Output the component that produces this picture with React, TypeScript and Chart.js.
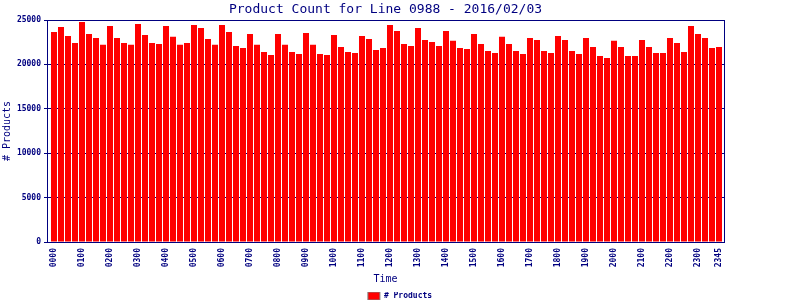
import React, { useEffect, useRef } from 'react';
import { Chart, registerables } from 'chart.js';

Chart.register(...registerables);

const timeLabels = [
  '0000', '0015', '0030', '0045', '0100', '0115', '0130', '0145',
  '0200', '0215', '0230', '0245', '0300', '0315', '0330', '0345',
  '0400', '0415', '0430', '0445', '0500', '0515', '0530', '0545',
  '0600', '0615', '0630', '0645', '0700', '0715', '0730', '0745',
  '0800', '0815', '0830', '0845', '0900', '0915', '0930', '0945',
  '1000', '1015', '1030', '1045', '1100', '1115', '1130', '1145',
  '1200', '1215', '1230', '1245', '1300', '1315', '1330', '1345',
  '1400', '1415', '1430', '1445', '1500', '1515', '1530', '1545',
  '1600', '1615', '1630', '1645', '1700', '1715', '1730', '1745',
  '1800', '1815', '1830', '1845', '1900', '1915', '1930', '1945',
  '2000', '2015', '2030', '2045', '2100', '2115', '2130', '2145',
  '2200', '2215', '2230', '2245', '2300', '2315', '2330', '2345',
];

const productCounts = [
  23650, 24220, 23210, 22420, 24780, 23430, 22980, 22200,
  24330, 22980, 22420, 22200, 24560, 23320, 22420, 22310,
  24330, 23100, 22200, 22420, 24450, 24110, 22870, 22200,
  24450, 23660, 22080, 21860, 23430, 22200, 21410, 21070,
  23430, 22200, 21410, 21180, 23550, 22200, 21180, 21070,
  23320, 21970, 21410, 21290, 23210, 22870, 21630, 21860,
  24450, 23770, 22310, 22080, 24110, 22760, 22530, 22080,
  23770, 22650, 21860, 21740, 23430, 22310, 21520, 21290,
  23100, 22310, 21520, 21180, 22980, 22760, 21520, 21290,
  23210, 22760, 21520, 21180, 22980, 21970, 20960, 20730,
  22650, 21970, 20960, 20960, 22760, 21970, 21290, 21290,
  22980, 22420, 21410, 24330, 23430, 22980, 21860, 21970,
];

const xTickIndexes = [0, 4, 8, 12, 16, 20, 24, 28, 32, 36, 40, 44, 48, 52, 56, 60, 64, 68, 72, 76, 80, 84, 88, 92, 95];
const yTickValues = [0, 5000, 10000, 15000, 20000, 25000];

const chartTitle = 'Product Count for Line 0988 - 2016/02/03';
const seriesLabel = '# Products';
const xTitle = 'Time';
const yTitle = '# Products';

const NAVY = '#000080';
const MONO = '"DejaVu Sans Mono", monospace';

export default function App() {
  const ref = useRef<HTMLCanvasElement>(null);

  useEffect(() => {
    if (!ref.current) return;
    const chart = new Chart(ref.current, {
      type: 'bar',
      data: {
        datasets: [
          {
            label: seriesLabel,
            data: productCounts.map((y, x) => ({ x, y })),
            backgroundColor: '#ff0000',
            borderWidth: 0,
            barPercentage: 6 / 7,
            categoryPercentage: 1,
            xAxisID: 'x',
            yAxisID: 'y',
          },
        ],
      },
      options: {
        animation: false,
        responsive: false,
        layout: { padding: { left: 0, right: 0, top: 0, bottom: -10 } },
        plugins: {
          title: { display: false },
          tooltip: { enabled: false },
          legend: {
            display: true,
            position: 'bottom',
            align: 'center',
            labels: {
              boxWidth: 12,
              boxHeight: 8,
              padding: 0,
              color: NAVY,
              font: { family: MONO, size: 8, weight: 'bold' },
              generateLabels: (c: any) =>
                (Chart.defaults.plugins.legend.labels.generateLabels as any)(c).map((l: any) => ({
                  ...l,
                  strokeStyle: '#808080',
                  lineWidth: 1,
                })),
            },
          },
        },
        scales: {
          x: {
            type: 'linear',
            position: 'bottom',
            min: -1,
            max: 95 + 5 / 7,
            offset: false,
            grid: { display: false, drawTicks: false, tickLength: 0, offset: false },
            border: { display: true, color: NAVY, width: 1 },
            afterBuildTicks: (s: any) => {
              s.ticks = xTickIndexes.map((v) => ({ value: v }));
            },
            ticks: {
              autoSkip: false,
              minRotation: 90,
              maxRotation: 90,
              padding: 6,
              color: NAVY,
              font: { family: MONO, size: 8, weight: 'bold' },
              callback: (v: any) => timeLabels[v as number] ?? '',
            },
            title: {
              display: true,
              text: xTitle,
              color: NAVY,
              font: { family: MONO, size: 10 },
              padding: { top: 0, bottom: 7 },
            },
            afterFit: (s: any) => {
              s.height = 50;
            },
          },
          x2: {
            type: 'linear',
            position: 'top',
            min: 0,
            max: 1,
            grid: { display: false, drawTicks: false, tickLength: 0 },
            border: { display: true, color: NAVY, width: 1 },
            ticks: { display: false },
            title: {
              display: true,
              text: chartTitle,
              color: NAVY,
              font: { family: MONO, size: 13 },
              padding: { top: 1.5, bottom: 0 },
            },
            afterFit: (s: any) => {
              s.height = 20;
            },
          },
          y: {
            type: 'linear',
            position: 'left',
            min: 0,
            max: 25000,
            grid: { display: true, color: NAVY, lineWidth: 1, drawTicks: true, tickLength: 3 },
            border: { display: true, color: NAVY, width: 1 },
            afterBuildTicks: (s: any) => {
              s.ticks = yTickValues.map((v) => ({ value: v }));
            },
            ticks: {
              padding: 3,
              color: NAVY,
              font: { family: MONO, size: 8, weight: 'bold' },
              callback: (v: any) => String(v),
            },
            title: {
              display: true,
              text: yTitle,
              color: NAVY,
              font: { family: MONO, size: 10 },
              padding: { top: 1.5, bottom: 0 },
            },
            afterFit: (s: any) => {
              s.width = 47;
            },
          },
          y2: {
            type: 'linear',
            position: 'right',
            min: 0,
            max: 1,
            grid: { display: false, drawTicks: false, tickLength: 0 },
            border: { display: true, color: NAVY, width: 1 },
            ticks: { display: false },
            afterFit: (s: any) => {
              s.width = 76;
            },
          },
        },
      } as any,
    });
    return () => chart.destroy();
  }, []);

  return (
    <div style={{ position: 'absolute', left: 0, top: 0, width: 800, height: 300, background: '#ffffff' }}>
      <canvas ref={ref} width={800} height={300} style={{ display: 'block' }} />
    </div>
  );
}
